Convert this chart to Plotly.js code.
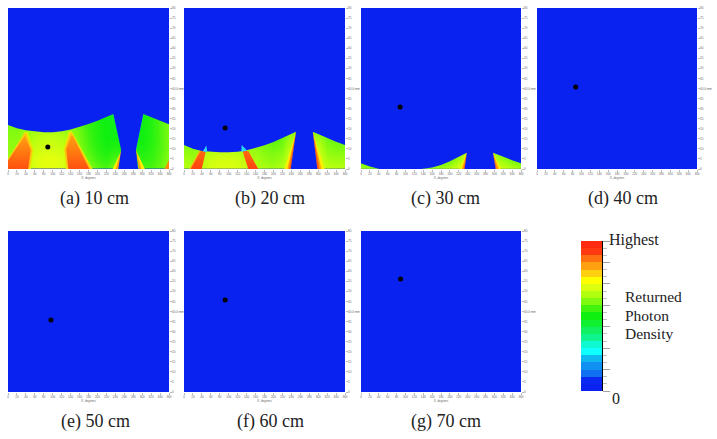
<!DOCTYPE html>
<html><head><meta charset="utf-8">
<script src="https://cdn.plot.ly/plotly-3.0.1.min.js"></script>
<style>html,body{margin:0;padding:0;background:#fff}#c{width:717px;height:439px}
.cartesianlayer .plot{filter:blur(0.7px)}</style></head><body><div id="c"></div>
<script>
// ---- scale of the returned photon density, lowest to highest
const bandValues=[0,.05,.1,.15,.2,.25,.3,.35,.4,.45,.5,.55,.6,.65,.7,.75,.8,.85,.9,.95,1];
const bandColors=['#0a22f0','#0a2af2','#1070f0','#1090f0','#10b8f0','#10ffff','#10f8d0','#10f490','#10f060','#10f030','#10f010','#40f410','#80fa10','#b0ff10','#dcff10','#ffff00','#ffd010','#ffa010','#ff7010','#ff3a10','#ff2a10'];
const captions=['(a) 10 cm','(b) 20 cm','(c) 30 cm','(d) 40 cm','(e) 50 cm','(f) 60 cm','(g) 70 cm'];
const legendLabels=['Returned','Photon','Density'];
const xTicks=[0,20,40,60,80,100,120,140,160,180,200,220,240,260,280,300,320,340,360];
const yTicks=[0,5,10,15,20,25,30,35,40,45,50,55,60,65,70,75,80];
const yTickText=['0','5','10','15','20','25','30','35','40.0 mm','45','50','55','60','65','70','75','80'];
// source position in each panel (degrees, depth)
const dotX=[89,92,88,87,96,92,89];
const dotY=[10.9,20.4,30.8,40.7,35.8,45.7,56.1];
// density grids
const gridX=[0,20,40,60,80,100,120,140,160,180,200,220,240,260,280,300,320,340,360];
const aRows=[0,5,10,15,20,25,30];
const aZ=[
[.66,.66,.68,.70,.71,.71,.70,.68,.65,.62,.58,.56,.60,.60,.60,.56,.56,.58,.62],
[.64,.64,.66,.70,.71,.71,.70,.66,.62,.58,.55,.53,.56,.56,.56,.53,.54,.57,.61],
[.62,.62,.65,.68,.69,.69,.68,.64,.60,.56,.53,.51,.52,.52,.52,.51,.53,.56,.60],
[.61,.61,.63,.66,.67,.67,.66,.63,.59,.55,.52,.50,.50,.50,.50,.50,.52,.56,.60],
[.60,.60,.62,.63,.64,.64,.63,.61,.58,.54,.52,.50,.48,.48,.48,.50,.52,.56,.60],
[.60,.60,.60,.60,.60,.60,.60,.60,.56,.53,.51,.49,.47,.47,.47,.49,.52,.56,.60],
[.60,.60,.60,.60,.60,.60,.60,.60,.56,.53,.51,.49,.47,.47,.47,.49,.52,.56,.60]];
const bRows=[0,5,10,15,20];
const bZ=[
[.66,.65,.66,.70,.70,.70,.70,.68,.66,.65,.64,.66,.72,.72,.72,.72,.67,.66,.66],
[.64,.63,.66,.68,.69,.69,.68,.66,.64,.62,.61,.63,.70,.70,.70,.70,.64,.63,.63],
[.61,.61,.63,.65,.66,.66,.65,.63,.62,.60,.59,.60,.68,.68,.68,.68,.61,.60,.60],
[.60,.60,.60,.60,.60,.60,.60,.60,.60,.58,.57,.58,.64,.64,.64,.64,.59,.58,.58],
[.60,.60,.60,.60,.60,.60,.60,.60,.60,.58,.57,.58,.60,.60,.60,.60,.58,.58,.58]];
const cRows=[0,5,10];
const cZ=[
[.64,.62,.60,.60,.60,.60,.60,.62,.64,.64,.66,.70,.74,.74,.74,.72,.68,.66,.64],
[.56,.56,.56,.56,.56,.56,.56,.56,.56,.56,.58,.64,.70,.70,.70,.66,.62,.58,.56],
[.56,.56,.56,.56,.56,.56,.56,.56,.56,.56,.56,.60,.66,.66,.66,.62,.58,.56,.56]];
const blankRows=[0,80];
const blankCols=[0,360];
const blankZ=[[0,0],[0,0]];
// panel (a): zero-density outline
const aMaskX=[0,20,40,60,80,100,120,140,160,180,200,220,235.5,253,246.6,291,286,302.6,320,340,360,360,0];
const aMaskY=[21.9,20.3,19.2,18.6,18.2,18.2,18.7,19.6,20.9,22.3,24,25.8,27.3,9.5,0,0,9.5,27.3,25.8,24,22.2,80,80];
// panel (a): wedges, from the outer rim inwards
const aW1OuterX=[0,38,44,58,51.4,0];
const aW1OuterY=[4.8,18.5,18.5,9.4,0,0];
const aW1MidX=[0,37.5,41,55,49,0];
const aW1MidY=[4.8,18,18,9.4,0,0];
const aW1InnerX=[0,36,38,51,45,0];
const aW1InnerY=[4.2,16.5,16.5,9.4,0,0];
const aW2OuterX=[135,142,189,129,123.7];
const aW2OuterY=[18.5,19,0,0,9.8];
const aW2MidX=[138,143,187,131.5,126];
const aW2MidY=[18,18,0,0,9.8];
const aW2InnerX=[141,145,182,135,130];
const aW2InnerY=[16.5,16.5,0,0,9.8];
const aCornerX=[350,360,360];
const aCornerY=[0,0,4.5];
const aStripLY=[0,9.4,0];
const aStripLYellowX=[234,254,246.8];
const aStripLOrangeX=[241,253.5,246.8];
const aStripRYellowX=[306,286,293];
const aStripROrangeX=[298,286.5,293];
const aEdgeLX=[235.5,240,257,254];
const aEdgeLY=[27.3,27,9.4,9.4];
const aEdgeRX=[302.6,298,283,286];
const aEdgeRY=[27.3,27,9.4,9.4];
// panel (b)
const bMaskX=[0,20,40,60,80,100,120,140,160,180,200,220,250.5,238.6,298.2,288,300,320,340,360,360,0];
const bMaskY=[11.9,10.1,9,8.5,8.3,8.3,8.6,9.3,10.4,11.8,13.4,15.4,18.5,0,0,18.5,17.3,15.4,13.6,11.9,80,80];
const bW1X=[15,39.6,49,37.3];
const bW1Y=[0,0,9,9];
const bW1EdgeX=[12,19,39,34];
const bW1EdgeY=[0,0,9,9];
const bW2X=[143.8,166,144,131];
const bW2Y=[0,0,9,9];
const bW2EdgeX=[143.8,148,134,131];
const bW2EdgeY=[0,0,9,9];
const bSpike1X=[42,50,52];
const bSpike1Y=[8.7,11.7,8.4];
const bSpike2X=[128,129,141];
const bSpike2Y=[8.5,11.9,9.2];
const bStripY=[0,18.5,0];
const bStripLYellowX=[225,250.5,238.6];
const bStripLOrangeX=[231,250.5,238.6];
const bStripLRedX=[235.5,250.5,238.6];
const bStripRYellowX=[314,288,298.2];
const bStripROrangeX=[307,288,298.2];
const bStripRRedX=[302,288,298.2];
// panel (c)
const cMaskX=[0,20,42,135,160,180,200,220,238,233,303,297,320,340,360,360,0];
const cMaskY=[2.8,1.2,0,0,.8,2,3.8,6,8.1,0,0,8.1,6,4.4,2.8,80,80];
const cStripY=[0,8.1,0];
const cStripLYellowX=[222,238,233];
const cStripLOrangeX=[227,238,233];
const cStripLRedX=[231,238,233];
const cStripRYellowX=[315,297,303];
const cStripROrangeX=[310,297,303];
const cStripRRedX=[305,297,303];

const W=717,H=439,BLUE='#0a22f0';
const panels=[[8,169,8,169],[184,345,8,169],[361,521,8,169],[537,697,8,169],[8,169,231,392],[184,345,231,392],[361,521,231,392]];
const capPos=[[94,198],[270,198],[446,198],[623,198],[96,421],[270,421],[446,421]];
const colorscale=bandValues.map((v,i)=>[v,bandColors[i]]);

const data=[],layout={width:W,height:H,margin:{l:0,r:0,t:0,b:0},paper_bgcolor:'#fff',plot_bgcolor:BLUE,showlegend:false,
  font:{family:'Liberation Serif',color:'#222'},annotations:[]};
const cell=i=>i===0?'':String(i+1);
function hm(i,x,y,z){data.push({type:'heatmap',x,y,z,zmin:0,zmax:1,colorscale,showscale:false,zsmooth:'best',hoverinfo:'skip',xaxis:'x'+cell(i),yaxis:'y'+cell(i)});}
function reg(i,x,y,fillcolor,grad){const t={type:'scatter',mode:'lines',x,y,fill:'toself',fillcolor,line:{width:0},hoverinfo:'skip',xaxis:'x'+cell(i),yaxis:'y'+cell(i)};
  if(grad)t.fillgradient={type:'vertical',colorscale:[[0,grad[0]],[1,grad[1]]]};data.push(t);}

hm(0,gridX,aRows,aZ);hm(1,gridX,bRows,bZ);hm(2,gridX,cRows,cZ);
[3,4,5,6].forEach(i=>hm(i,blankCols,blankRows,blankZ));

const Y='#ffee00',O='#ff9a10',R='#ff4a10',RIM='#d8f800',MID='#ffc810';
// (a)
reg(0,aW1OuterX,aW1OuterY,RIM);
reg(0,aW1MidX,aW1MidY,MID);
reg(0,aW1InnerX,aW1InnerY,O,['#ff5010','#ffa010']);
reg(0,aW2OuterX,aW2OuterY,RIM);
reg(0,aW2MidX,aW2MidY,MID);
reg(0,aW2InnerX,aW2InnerY,O,['#ff5010','#ffa010']);
reg(0,aCornerX,aCornerY,'#ff8a10');
reg(0,aStripLYellowX,aStripLY,Y);reg(0,aStripLOrangeX,aStripLY,O);
reg(0,aStripRYellowX,aStripLY,Y);reg(0,aStripROrangeX,aStripLY,O);
reg(0,aEdgeLX,aEdgeLY,'#20f0a0');reg(0,aEdgeRX,aEdgeRY,'#20f0e0');
reg(0,aMaskX,aMaskY,BLUE);
// (b)
reg(1,bW1EdgeX,bW1EdgeY,'#ffb010');reg(1,bW1X,bW1Y,R,['#ff4210','#ff6a10']);
reg(1,bW2EdgeX,bW2EdgeY,'#ffb010');reg(1,bW2X,bW2Y,R,['#ff4210','#ff6a10']);
reg(1,bStripLYellowX,bStripY,Y);reg(1,bStripLOrangeX,bStripY,O);reg(1,bStripLRedX,bStripY,R);
reg(1,bStripRYellowX,bStripY,Y);reg(1,bStripROrangeX,bStripY,O);reg(1,bStripRRedX,bStripY,R);
reg(1,bMaskX,bMaskY,BLUE);
reg(1,bSpike1X,bSpike1Y,'#30d8f0');reg(1,bSpike2X,bSpike2Y,'#30d8f0');
// (c)
reg(2,cStripLYellowX,cStripY,Y);reg(2,cStripLOrangeX,cStripY,O);reg(2,cStripLRedX,cStripY,R);
reg(2,cStripRYellowX,cStripY,Y);reg(2,cStripROrangeX,cStripY,O);reg(2,cStripRRedX,cStripY,R);
reg(2,cMaskX,cMaskY,BLUE);

// source markers
panels.forEach((p,i)=>{
  data.push({type:'scatter',mode:'markers',x:[dotX[i]],y:[dotY[i]],marker:{color:'#000',size:5},hoverinfo:'skip',xaxis:'x'+cell(i),yaxis:'y'+cell(i)});
  const k=cell(i);
  layout['xaxis'+k]={domain:[p[0]/W,p[1]/W],range:[0,360],anchor:'y'+k,tickmode:'array',tickvals:xTicks,ticktext:xTicks.map(String),
    tickfont:{size:3,family:'Liberation Sans',color:'#666'},ticks:'outside',ticklen:1.5,tickwidth:.5,tickcolor:'#777',tickangle:0,showgrid:false,zeroline:false,showline:false,fixedrange:true,
    title:{text:'X, degrees',font:{size:3,family:'Liberation Sans',color:'#666'},standoff:1}};
  layout['yaxis'+k]={domain:[1-p[3]/H,1-p[2]/H],range:[0,80],anchor:'x'+k,side:'right',tickmode:'array',tickvals:yTicks,ticktext:yTickText,
    tickfont:{size:3,family:'Liberation Sans',color:'#666'},ticks:'outside',ticklen:1.5,tickwidth:.5,tickcolor:'#777',showgrid:false,zeroline:false,showline:false,fixedrange:true};
  layout.annotations.push({xref:'paper',yref:'paper',x:capPos[i][0]/W,y:1-capPos[i][1]/H,text:captions[i],showarrow:false,font:{size:18,family:'Liberation Serif',color:'#222'},xanchor:'center',yanchor:'middle'});
});

// scale bar
data.push({type:'heatmap',x:[0],y:bandValues.map((v,i)=>i+.5),z:bandValues.map(v=>[v]),zmin:0,zmax:1,colorscale,showscale:false,hoverinfo:'skip',xaxis:'x8',yaxis:'y8'});
layout.xaxis8={domain:[581/W,602/W],anchor:'y8',range:[-.5,.5],visible:false,fixedrange:true};
layout.yaxis8={domain:[1-391/H,1-241/H],anchor:'x8',range:[0,21],side:'right',showticklabels:false,showgrid:false,zeroline:false,showline:true,linecolor:'#000',linewidth:1,
  ticks:'outside',ticklen:7,tickwidth:.7,tickcolor:'#777',tickmode:'array',tickvals:[0,3,6,9,12,15,18,21],
  minor:{ticks:'outside',ticklen:4,tickwidth:.6,tickcolor:'#999',tickmode:'array',tickvals:[1,2,4,5,7,8,10,11,13,14,16,17,19,20]},fixedrange:true};
const tx=(t,x,y,s)=>layout.annotations.push({xref:'paper',yref:'paper',x:x/W,y:1-y/H,text:t,showarrow:false,font:{size:s,family:'Liberation Serif',color:'#222'},xanchor:'left',yanchor:'middle'});
tx('Highest',607,240,16);
legendLabels.forEach((t,i)=>tx(t,623,[296,315,333][i],15.5));
tx('0',610,398,16);
Plotly.newPlot('c',data,layout,{staticPlot:true,displayModeBar:false});
</script></body></html>
